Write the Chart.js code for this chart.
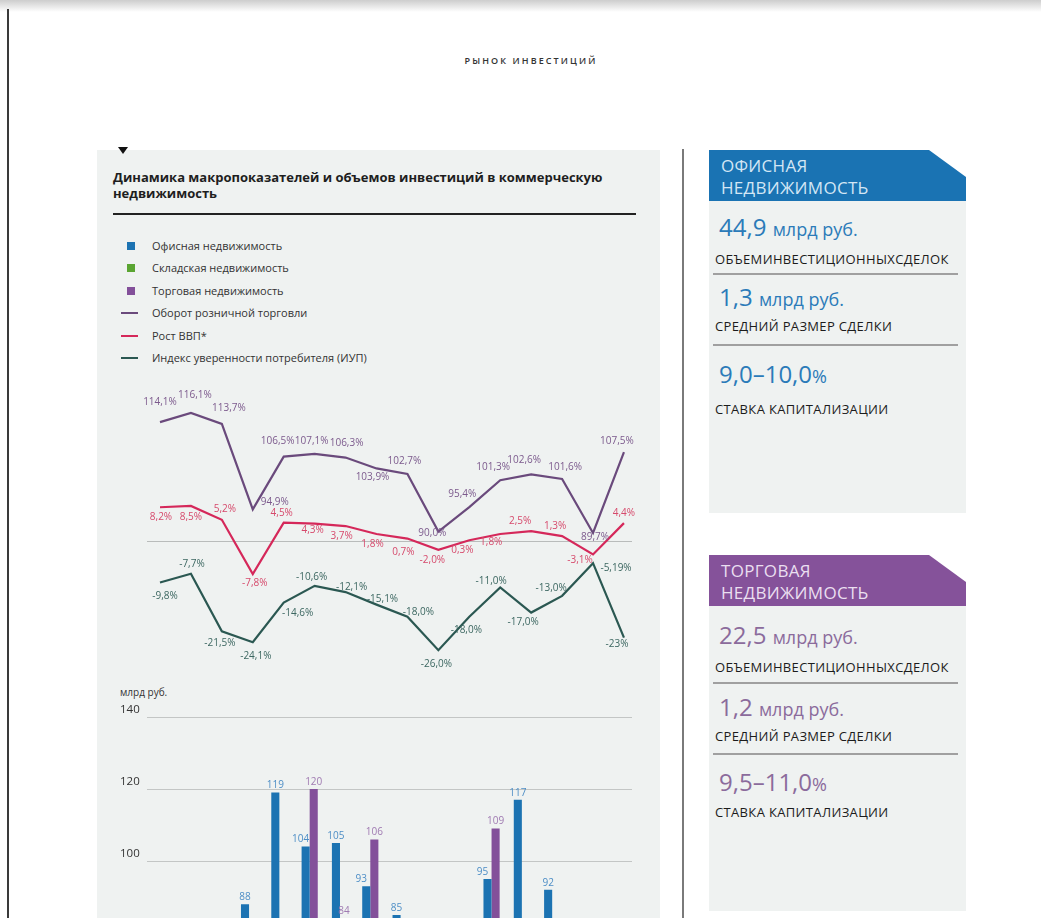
<!DOCTYPE html>
<html lang="ru">
<head>
<meta charset="utf-8">
<title>Рынок инвестиций</title>
<script src="https://cdn.jsdelivr.net/npm/chart.js@4.4.1/dist/chart.umd.min.js"></script>
<style>
  html, body { margin: 0; padding: 0; width: 1041px; height: 918px; overflow: hidden; background: #fff; font-family: "Open Sans", sans-serif; color: #222; }
  .abs { position: absolute; }
  #topshade { left: 0; top: 0; width: 1041px; height: 12px; background: linear-gradient(#cdcdcd, #fff); }
  #edge { left: 7px; top: 9px; width: 2px; height: 920px; background: #3a3a3a; }
  #runner { left: 0; top: 54px; width: 1062px; text-align: center; font-size: 9px; font-weight: 600; letter-spacing: 2.1px; color: #333; }
  #leftpanel { left: 97px; top: 150px; width: 563px; height: 800px; background: #eff2f1; }
  #marker { left: 118px; top: 147px; width: 0; height: 0; border-left: 5px solid transparent; border-right: 5px solid transparent; border-top: 7px solid #111; }
  #title { left: 113px; top: 169px; width: 520px; font-size: 13px; font-weight: 700; line-height: 16px; color: #1e1e1e; }
  #rule { left: 113px; top: 213px; width: 523px; height: 1.5px; background: #222; }
  .leg { position: absolute; left: 121px; height: 16px; font-size: 11px; line-height: 16px; color: #333; }
  .leg .sw { position: absolute; top: 5px; }
  .leg span { position: absolute; left: 31px; white-space: nowrap; }
  #unit { left: 120px; top: 685px; font-size: 10px; color: #333; }
  #divider { left: 682px; top: 149px; width: 2px; height: 800px; background: #7a7a7a; }
  .hdr { position: absolute; left: 709px; width: 257px; height: 51px; box-sizing: border-box; padding: 5px 0 0 12px; font-size: 17px; line-height: 22px; letter-spacing: 0.3px; clip-path: polygon(0 0, 220px 0, 257px 27px, 257px 51px, 0 51px); }
  .pbody { position: absolute; left: 709px; width: 257px; background: #eff2f1; }
  .val { position: absolute; left: 10px; height: 30px; line-height: 30px; font-size: 24px; white-space: nowrap; }
  .val small { font-size: 18px; }
  .caps { position: absolute; left: 6px; height: 20px; line-height: 20px; font-size: 13px; font-weight: 500; letter-spacing: 0.35px; color: #1c1c1c; white-space: nowrap; }
  .sep { position: absolute; left: 4px; width: 245px; height: 2px; background: #a0a0a0; }
  canvas { position: absolute; }
</style>
</head>
<body>
<div id="topshade" class="abs"></div>
<div id="edge" class="abs"></div>
<div id="runner" class="abs">РЫНОК ИНВЕСТИЦИЙ</div>

<div id="leftpanel" class="abs"></div>
<div id="marker" class="abs"></div>
<div id="title" class="abs">Динамика макропоказателей и объемов инвестиций в коммерческую недвижимость</div>
<div id="rule" class="abs"></div>
<div id="legend"></div>
<div id="unit" class="abs">млрд руб.</div>

<div id="divider" class="abs"></div>

<div class="hdr" style="top:150px;background:#1a73b3;color:#d3e6f5;">ОФИСНАЯ<br>НЕДВИЖИМОСТЬ</div>
<div class="pbody" style="top:201px;height:312px;">
  <div class="val" style="top:11px;color:#2b7bb9;">44,9 <small>млрд руб.</small></div>
  <div class="caps" style="top:48px;">ОБЪЕМИНВЕСТИЦИОННЫХСДЕЛОК</div>
  <div class="sep" style="top:72px;"></div>
  <div class="val" style="top:81px;color:#2b7bb9;">1,3 <small>млрд руб.</small></div>
  <div class="caps" style="top:115px;">СРЕДНИЙ РАЗМЕР СДЕЛКИ</div>
  <div class="sep" style="top:143px;"></div>
  <div class="val" style="top:158px;color:#2b7bb9;">9,0–10,0<small>%</small></div>
  <div class="caps" style="top:198px;">СТАВКА КАПИТАЛИЗАЦИИ</div>
</div>

<div class="hdr" style="top:555px;background:#85529a;color:#eadff0;">ТОРГОВАЯ<br>НЕДВИЖИМОСТЬ</div>
<div class="pbody" style="top:606px;height:305px;">
  <div class="val" style="top:14px;color:#8b6b9c;">22,5 <small>млрд руб.</small></div>
  <div class="caps" style="top:51px;">ОБЪЕМИНВЕСТИЦИОННЫХСДЕЛОК</div>
  <div class="sep" style="top:76px;"></div>
  <div class="val" style="top:86px;color:#8b6b9c;">1,2 <small>млрд руб.</small></div>
  <div class="caps" style="top:120px;">СРЕДНИЙ РАЗМЕР СДЕЛКИ</div>
  <div class="sep" style="top:147px;"></div>
  <div class="val" style="top:161px;color:#8b6b9c;">9,5–11,0<small>%</small></div>
  <div class="caps" style="top:196px;">СТАВКА КАПИТАЛИЗАЦИИ</div>
</div>

<canvas id="lines" width="563" height="300" style="left:97px;top:380px;"></canvas>
<canvas id="bars" width="563" height="541" style="left:97px;top:700px;"></canvas>

<script>
// years on the horizontal axis (labels sit below the visible part of the page)
const years = ["2006", "2007", "2008", "2009", "2010", "2011", "2012", "2013",
  "2014", "2015", "2016", "2017", "2018", "2019", "2020", "2021"];

// line series, %
const retailTurnover = [114.1, 116.1, 113.7, 94.9, 106.5, 107.1, 106.3, 103.9,
  102.7, 90.0, 95.4, 101.3, 102.6, 101.6, 89.7, 107.5];
const gdpGrowth = [8.2, 8.5, 5.2, -7.8, 4.5, 4.3, 3.7, 1.8,
  0.7, -2.0, 0.3, 1.8, 2.5, 1.3, -3.1, 4.4];
const consumerIndex = [-9.8, -7.7, -21.5, -24.1, -14.6, -10.6, -12.1, -15.1,
  -18.0, -26.0, -18.0, -11.0, -17.0, -13.0, -5.19, -23];
const consumerDigits = [1, 1, 1, 1, 1, 1, 1, 1, 1, 1, 1, 1, 1, 1, 2, 0];

// investment volumes, bn rub (values below ~80 are cut off in the picture and are estimates)
const officeVolume = [35, 55, 70, 88, 119, 104, 105, 93, 85, 40, 62, 95, 117, 92, 72, 45];
const retailVolume = [20, 45, 65, 30, 55, 120, 84, 106, 60, 35, 50, 109, 55, 45, 35, 23];
const warehouseVolume = [10, 20, 25, 8, 15, 25, 35, 20, 25, 15, 20, 30, 25, 40, 55, 30];
const volumeTicks = [0, 20, 40, 60, 80, 100, 120, 140];

const seriesNames = ["Офисная недвижимость", "Складская недвижимость", "Торговая недвижимость",
  "Оборот розничной торговли", "Рост ВВП*", "Индекс уверенности потребителя (ИУП)"];

const BLUE = "#1c73b2", GREEN = "#5aa532", PURPLE = "#83509a";
const RETAIL_LINE = "#6a4a7c", GDP_LINE = "#d5285a", CCI_LINE = "#2b5852";

// label offsets from each point, px
const retailLabelPos = [[0,-20],[4,-18],[7,-16],[22,-7],[-6,-15],[-3,-13],[1,-14],[-4,9],
  [-3,-13],[-6,2],[-7,-13],[-7,-13],[-7,-14],[3,-12],[2,4],[-7,-11]];
const gdpLabelPos = [[1,10],[0,11],[3,-11],[2,9],[-2,-10],[-2,7],[-4,10],[-4,10],
  [-4,14],[-6,10],[-7,10],[-9,8],[-11,-10],[-7,-10],[-13,6],[0,-10]];
const cciLabelPos = [[5,14],[1,-10],[-2,12],[3,14],[14,11],[-3,-9],[6,-5],[6,-5],
  [11,-5],[-2,14],[-3,13],[-9,-6],[-8,10],[-11,-8],[23,5],[-7,7]];

// legend
const legend = document.getElementById("legend");
const legendMarks = [["sq", BLUE], ["sq", GREEN], ["sq", PURPLE], ["ln", RETAIL_LINE], ["ln", GDP_LINE], ["ln", CCI_LINE]];
seriesNames.forEach((name, i) => {
  const row = document.createElement("div");
  row.className = "leg";
  row.style.top = (238 + i * 22.4) + "px";
  const sw = document.createElement("div");
  sw.className = "sw";
  if (legendMarks[i][0] == "sq") {
    sw.style.cssText = "left:6px;top:4px;width:8px;height:8px;background:" + legendMarks[i][1];
  } else {
    sw.style.cssText = "left:0;top:7px;width:17px;height:2px;background:" + legendMarks[i][1];
  }
  row.appendChild(sw);
  const t = document.createElement("span");
  t.textContent = name;
  row.appendChild(t);
  legend.appendChild(row);
});

const fmt = (v, d) => v.toFixed(d).replace(".", ",") + "%";

const pointLabels = {
  id: "pointLabels",
  afterDatasetsDraw(chart) {
    const ctx = chart.ctx;
    ctx.save();
    ctx.font = "10px 'Open Sans'";
    ctx.textAlign = "center";
    ctx.textBaseline = "middle";
    chart.data.datasets.forEach((ds, di) => {
      const meta = chart.getDatasetMeta(di);
      meta.data.forEach((el, i) => {
        const off = ds.labelPos[i];
        ctx.fillStyle = ds.labelColor;
        ctx.fillText(ds.labelText(i), el.x + off[0], el.y + off[1]);
      });
    });
    ctx.restore();
  },
};

const zeroLine = {
  id: "zeroLine",
  beforeDatasetsDraw(chart) {
    const ctx = chart.ctx;
    const y = chart.scales.y.getPixelForValue(0);
    ctx.save();
    ctx.strokeStyle = "#b9bcbb";
    ctx.lineWidth = 1;
    ctx.beginPath();
    ctx.moveTo(chart.chartArea.left, y);
    ctx.lineTo(chart.chartArea.right, y);
    ctx.stroke();
    ctx.restore();
  },
};

const toPoints = (arr) => arr.map((v, i) => ({ x: i, y: v }));

new Chart(document.getElementById("lines"), {
  type: "line",
  data: {
    datasets: [
      {
        label: seriesNames[3],
        data: toPoints(retailTurnover),
        yAxisID: "y2",
        borderColor: RETAIL_LINE,
        borderWidth: 2.2,
        labelColor: "#7c5a8d",
        labelPos: retailLabelPos,
        labelText: (i) => fmt(retailTurnover[i], 1),
      },
      {
        label: seriesNames[4],
        data: toPoints(gdpGrowth),
        yAxisID: "y",
        borderColor: GDP_LINE,
        borderWidth: 2.2,
        labelColor: "#d64a6c",
        labelPos: gdpLabelPos,
        labelText: (i) => fmt(gdpGrowth[i], 1),
      },
      {
        label: seriesNames[5],
        data: toPoints(consumerIndex),
        yAxisID: "y",
        borderColor: CCI_LINE,
        borderWidth: 2.2,
        labelColor: "#3c6761",
        labelPos: cciLabelPos,
        labelText: (i) => fmt(consumerIndex[i], consumerDigits[i]),
      },
    ],
  },
  options: {
    responsive: false,
    animation: false,
    layout: { padding: { left: 50, right: 28, top: 15, bottom: 10 } },
    elements: { point: { radius: 0 }, line: { tension: 0 } },
    plugins: { legend: { display: false }, tooltip: { enabled: false } },
    scales: {
      x: { type: "linear", display: false, min: -0.42, max: 15.26 },
      y: { display: false, min: -30.74, max: 35.05 },
      y2: { display: false, min: 59.56, max: 120.06 },
    },
  },
  plugins: [zeroLine, pointLabels],
});

const barLabels = {
  id: "barLabels",
  afterDatasetsDraw(chart) {
    const ctx = chart.ctx;
    ctx.save();
    ctx.font = "10px 'Open Sans'";
    ctx.textAlign = "center";
    ctx.textBaseline = "middle";
    chart.data.datasets.forEach((ds, di) => {
      const meta = chart.getDatasetMeta(di);
      meta.data.forEach((el, i) => {
        let dx = 0;
        // office label moves left when the retail bar beside it is taller
        if (ds.label == seriesNames[0] && retailVolume[i] > officeVolume[i]) dx = -5;
        ctx.fillStyle = ds.labelColor;
        ctx.fillText(String(ds.data[i]).replace(".", ","), el.x + dx, el.y - 7);
      });
    });
    ctx.restore();
  },
};

new Chart(document.getElementById("bars"), {
  type: "bar",
  data: {
    labels: years,
    datasets: [
      { label: seriesNames[0], data: officeVolume, backgroundColor: BLUE, labelColor: "#4d8ec6" },
      { label: seriesNames[2], data: retailVolume, backgroundColor: PURPLE, labelColor: "#a07bb2" },
      { label: seriesNames[1], data: warehouseVolume, backgroundColor: GREEN, labelColor: "#6fae4c" },
    ],
  },
  options: {
    responsive: false,
    animation: false,
    layout: { padding: { left: 23, right: 28, top: 17, bottom: 0 } },
    datasets: { bar: { categoryPercentage: 0.8, barPercentage: 1.0 } },
    plugins: { legend: { display: false }, tooltip: { enabled: false } },
    scales: {
      x: {
        grid: { display: false },
        border: { display: false },
        ticks: { font: { family: "Open Sans", size: 10 }, color: "#333" },
        afterFit: (s) => { s.height = 20; },
      },
      y: {
        min: 0,
        max: 140,
        afterBuildTicks: (s) => { s.ticks = volumeTicks.map((v) => ({ value: v })); },
        grid: { color: "#c3c6c5", lineWidth: 1, drawTicks: false },
        border: { display: false },
        ticks: {
          font: { family: "Open Sans", size: 11.5 },
          color: "#333",
          crossAlign: "far",
          padding: 0,
          labelOffset: -7,
        },
        afterFit: (s) => { s.width = 27; },
      },
    },
  },
  plugins: [barLabels],
});
</script>
</body>
</html>
